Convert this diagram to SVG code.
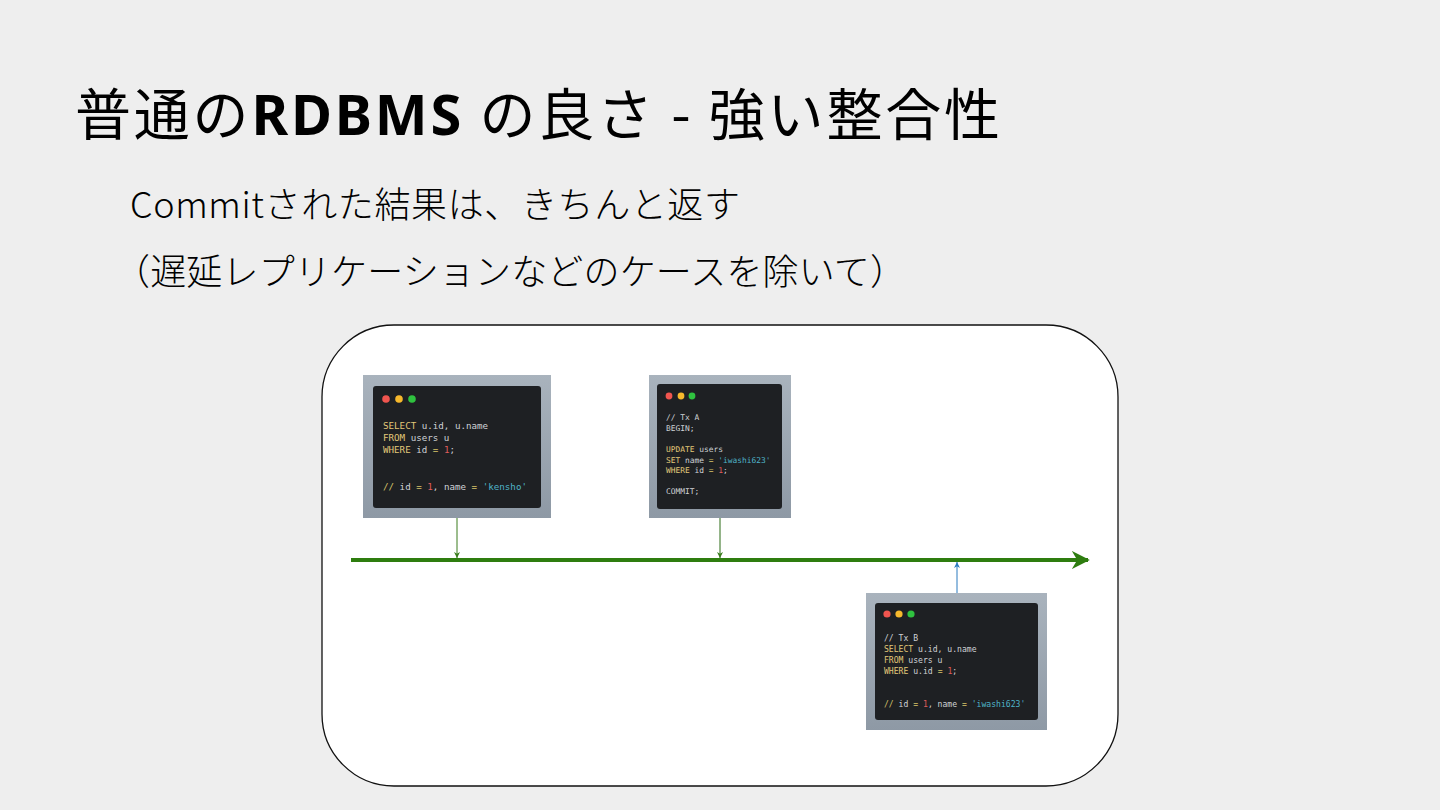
<svg xmlns="http://www.w3.org/2000/svg" width="1440" height="810" viewBox="0 0 1440 810">
<defs>
<style>
.title{font-family:"Noto Sans CJK JP","Noto Sans",sans-serif;font-size:56px;fill:#000}
.sub{font-family:"Noto Sans CJK JP","Noto Sans",sans-serif;font-size:36px;fill:#000;font-weight:300}
.code{font-family:"DejaVu Sans Mono","Liberation Mono",monospace;fill:#cfd2d6}
.kw{fill:#e2c878}
.num{fill:#e05c5c}
.str{fill:#4fb3c8}
.op{fill:#d7c36a}
.frame{fill:url(#fg)}
.win{fill:#1e2023}
</style>
<linearGradient id="fg" x1="0" y1="0" x2="0" y2="1">
<stop offset="0" stop-color="#a9b3bd"/>
<stop offset="1" stop-color="#8e99a5"/>
</linearGradient>
<marker id="ag" viewBox="0 0 10 10" refX="10" refY="5" markerWidth="6" markerHeight="6" orient="auto" markerUnits="userSpaceOnUse">
<path d="M0,0 L10,5 L0,10 L3,5 z" fill="#3a7d1c"/>
</marker>
<marker id="ab" viewBox="0 0 10 10" refX="10" refY="5" markerWidth="6" markerHeight="6" orient="auto" markerUnits="userSpaceOnUse">
<path d="M0,0 L10,5 L0,10 L3,5 z" fill="#2b7bbf"/>
</marker>
<marker id="big" viewBox="0 0 10 10" refX="9" refY="5" markerWidth="18" markerHeight="18" orient="auto" markerUnits="userSpaceOnUse">
<path d="M0,0 L10,5 L0,10 L3,5 z" fill="#2e7d0f"/>
</marker>
</defs>
<rect width="1440" height="810" fill="#eeeeee"/>
<text class="title" x="75" y="135" textLength="925" lengthAdjust="spacing">普通の<tspan font-weight="bold" font-family="'Noto Sans',sans-serif">RDBMS</tspan> の良さ - 強い整合性</text>
<text class="sub" x="130" y="218" textLength="610" lengthAdjust="spacing">Commitされた結果は、きちんと返す</text>
<text class="sub" x="114" y="285" textLength="792" lengthAdjust="spacing">（遅延レプリケーションなどのケースを除いて）</text>
<rect id="panel" x="322" y="325" width="796" height="461" rx="72" fill="#ffffff" stroke="#111" stroke-width="1.3"/>
<g id="connectors">
<line x1="351" y1="560" x2="1088" y2="560" stroke="#2e7d0f" stroke-width="4" marker-end="url(#big)"/>
<line x1="457" y1="518" x2="457" y2="558" stroke="#3a7d1c" stroke-width="1" marker-end="url(#ag)"/>
<line x1="720" y1="518" x2="720" y2="558" stroke="#2b6a15" stroke-width="1" marker-end="url(#ag)"/>
<line x1="957" y1="593" x2="957" y2="562" stroke="#2b7bbf" stroke-width="1" marker-end="url(#ab)"/>
</g>
<g id="shot1">
<rect class="frame" x="363" y="375" width="188" height="143"/>
<rect class="win" x="373" y="386" width="168" height="122" rx="3"/>
<circle cx="386" cy="399" r="3.8" fill="#f0554f"/><circle cx="399" cy="399" r="3.8" fill="#f6b82c"/><circle cx="412" cy="399" r="3.8" fill="#2fc23f"/>
<g class="code" font-size="9.2">
<text x="383" y="429"><tspan class="kw">SELECT</tspan> u.id, u.name</text>
<text x="383" y="441"><tspan class="kw">FROM</tspan> users u</text>
<text x="383" y="453"><tspan class="kw">WHERE</tspan> id <tspan class="op">=</tspan> <tspan class="num">1</tspan>;</text>
<text x="383" y="490"><tspan class="op">//</tspan> id <tspan class="op">=</tspan> <tspan class="num">1</tspan>, name <tspan class="op">=</tspan> <tspan class="str">'kensho'</tspan></text>
</g>
</g>
<g id="shot2">
<rect class="frame" x="649" y="375" width="142" height="143"/>
<rect class="win" x="657" y="384" width="125" height="125" rx="3"/>
<circle cx="669" cy="396" r="3.4" fill="#f0554f"/><circle cx="681" cy="396" r="3.4" fill="#f6b82c"/><circle cx="692" cy="396" r="3.4" fill="#2fc23f"/>
<g class="code" font-size="7.9">
<text x="666" y="420">// Tx A</text>
<text x="666" y="431">BEGIN;</text>
<text x="666" y="452"><tspan class="kw">UPDATE</tspan> users</text>
<text x="666" y="463"><tspan class="kw">SET</tspan> name <tspan class="op">=</tspan> <tspan class="str">'iwashi623'</tspan></text>
<text x="666" y="473"><tspan class="kw">WHERE</tspan> id <tspan class="op">=</tspan> <tspan class="num">1</tspan>;</text>
<text x="666" y="494">COMMIT;</text>
</g>
</g>
<g id="shot3">
<rect class="frame" x="866" y="593" width="181" height="137"/>
<rect class="win" x="875" y="603" width="163" height="117" rx="3"/>
<circle cx="887" cy="614" r="3.6" fill="#f0554f"/><circle cx="899" cy="614" r="3.6" fill="#f6b82c"/><circle cx="911" cy="614" r="3.6" fill="#2fc23f"/>
<g class="code" font-size="8.1">
<text x="884" y="641">// Tx B</text>
<text x="884" y="652"><tspan class="kw">SELECT</tspan> u.id, u.name</text>
<text x="884" y="663"><tspan class="kw">FROM</tspan> users u</text>
<text x="884" y="674"><tspan class="kw">WHERE</tspan> u.id <tspan class="op">=</tspan> <tspan class="num">1</tspan>;</text>
<text x="884" y="707"><tspan class="op">//</tspan> id <tspan class="op">=</tspan> <tspan class="num">1</tspan>, name <tspan class="op">=</tspan> <tspan class="str">'iwashi623'</tspan></text>
</g>
</g>
</svg>
